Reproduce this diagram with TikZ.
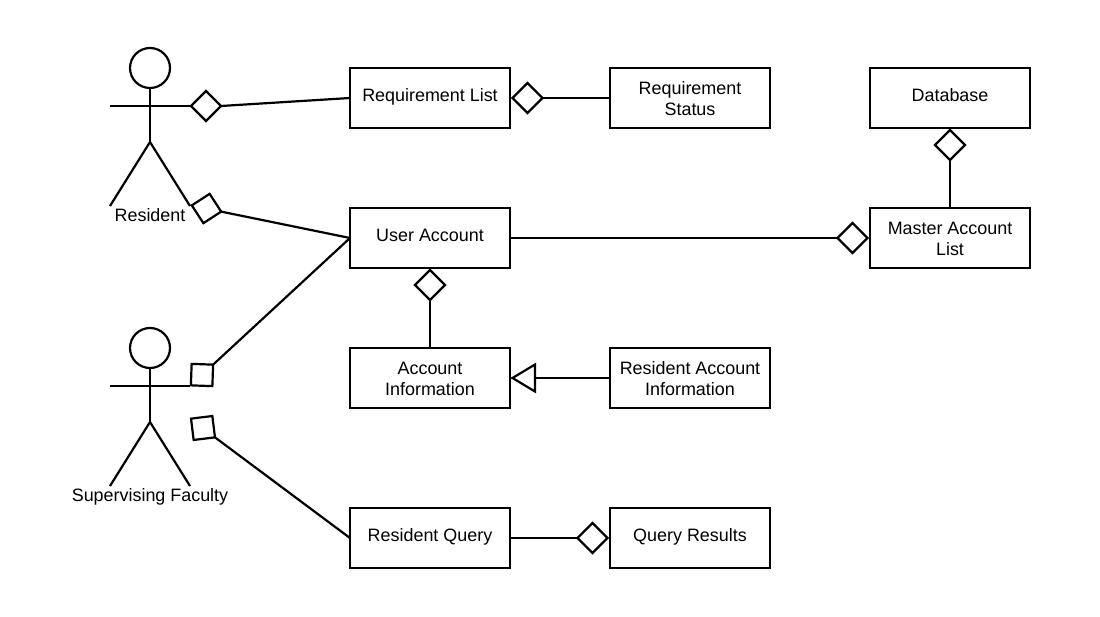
\documentclass[tikz,border=0pt]{standalone}
\usepackage{fontspec}
\setmainfont{Liberation Sans}
\usetikzlibrary{shapes.geometric}
\tikzset{
  link/.style={line width=1.25pt, color=black},
  classbox/.style={draw, line width=1.25pt, minimum width=3.2cm, minimum height=1.2cm, align=center, inner sep=0pt, outer sep=0pt},
  oneline/.style={text height=6pt, text depth=2pt},
  twoline/.style={text height=20pt, text depth=0pt},
  aggr/.style={draw, line width=1.25pt, diamond, aspect=1, minimum size=0.6cm, inner sep=0pt, outer sep=0pt},
  square/.style={draw, line width=1.25pt, rectangle, minimum size=0.43cm, inner sep=0pt, outer sep=0pt},
  inherit/.style={draw, line width=1.25pt, isosceles triangle, isosceles triangle stretches, shape border rotate=180, minimum width=0.54cm, minimum height=0.45cm, inner sep=0pt, outer sep=0pt},
  every node/.append style={font=\fontsize{10.2pt}{12.2pt}\selectfont},
  actor/.pic={
    \draw[link] (0,0.76) circle (0.4);
    \draw[link] (0,0.36) -- (0,-0.72);
    \draw[link] (-0.8,0) -- (0.8,0);
    \draw[link] (-0.8,-2) -- (0,-0.72) -- (0.8,-2);
  }
}
\begin{document}
\begin{tikzpicture}
\useasboundingbox (0,0) rectangle (22,12.32);
% actors
\pic at (3,10.2) {actor};
\pic at (3,4.6) {actor};
\node[oneline] (resident) at (3,7.96) {Resident};
\node[oneline] (faculty) at (3,2.36) {Supervising Faculty};
% classes
\node[classbox, oneline] (reqlist) at (8.6,10.36) {Requirement List};
\node[classbox, twoline] (reqstatus) at (13.8,10.36) {Requirement\\Status};
\node[classbox, oneline] (database) at (19,10.36) {Database};
\node[classbox, oneline] (useraccount) at (8.6,7.56) {User Account};
\node[classbox, twoline] (masterlist) at (19,7.56) {Master Account\\List};
\node[classbox, twoline] (accountinfo) at (8.6,4.76) {Account\\Information};
\node[classbox, twoline] (residentinfo) at (13.8,4.76) {Resident Account\\Information};
\node[classbox, oneline] (query) at (8.6,1.56) {Resident Query};
\node[classbox, oneline] (results) at (13.8,1.56) {Query Results};
% markers
\node[aggr] (d1) at (4.12,10.2) {};
\node[aggr, rotate=-12] (d2) at (4.13,8.15) {};
\node[aggr] (d3) at (10.55,10.36) {};
\node[aggr] (d4) at (19,9.42) {};
\node[aggr] (d5) at (17.05,7.56) {};
\node[aggr] (d6) at (8.6,6.62) {};
\node[aggr] (d7) at (11.85,1.56) {};
\node[square, rotate=-2] (s1) at (4.04,4.82) {};
\node[square, rotate=7] (s2) at (4.06,3.76) {};
\node[inherit, anchor=apex] (t1) at (10.25,4.76) {};
% connectors
\draw[link] (d1.east) -- (reqlist.west);
\draw[link] (d2.east) -- (useraccount.west);
\draw[link] (d3.east) -- (reqstatus.west);
\draw[link] (d4.south) -- (masterlist.north);
\draw[link] (useraccount.east) -- (d5.west);
\draw[link] (d6.south) -- (accountinfo.north);
\draw[link] (query.east) -- (d7.west);
\draw[link] (s1.north east) -- (useraccount.west);
\draw[link] (s2.south east) -- (query.west);
\draw[link] (t1.east) -- (residentinfo.west);
\end{tikzpicture}
\end{document}
